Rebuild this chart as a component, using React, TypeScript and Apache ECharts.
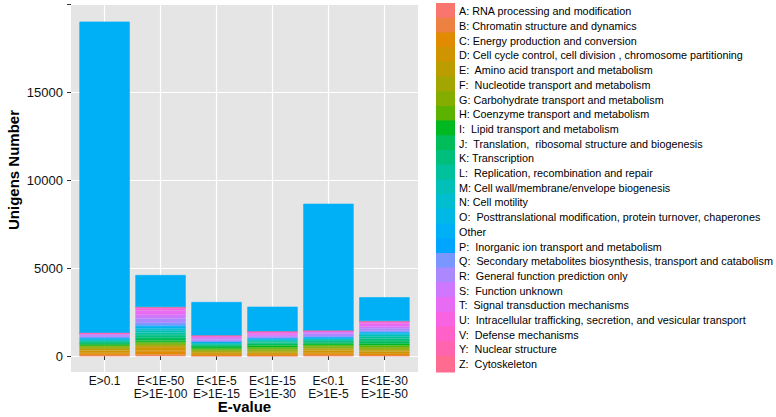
import React, { useEffect, useRef } from "react";
import * as echarts from "echarts";

// ---------- data ----------
const categories = [
  "E>0.1",
  "E<1E-50\nE>1E-100",
  "E<1E-5\nE>1E-15",
  "E<1E-15\nE>1E-30",
  "E<0.1\nE>1E-5",
  "E<1E-30\nE>1E-50",
];

const yTicks = [0, 5000, 10000, 15000, 20000];

const cogA = [20, 30, 10, 10, 20, 15];
const cogB = [40, 60, 20, 20, 40, 30];
const cogC = [120, 200, 80, 80, 120, 110];
const cogD = [140, 220, 80, 80, 140, 110];
const cogE = [90, 60, 50, 60, 70, 70];
const cogF = [60, 40, 40, 50, 60, 60];
const cogG = [80, 80, 70, 90, 90, 100];
const cogH = [60, 100, 80, 110, 80, 110];
const cogI = [50, 100, 80, 105, 80, 95];
const cogJ = [80, 150, 70, 90, 80, 150];
const cogK = [70, 150, 60, 80, 70, 140];
const cogL = [60, 140, 50, 70, 60, 120];
const cogM = [40, 130, 40, 60, 45, 100];
const cogN = [30, 80, 25, 40, 30, 60];
const cogO = [60, 120, 30, 40, 50, 60];
const cogP = [40, 80, 20, 30, 40, 40];
const cogQ = [40, 150, 40, 30, 50, 60];
const cogR = [120, 250, 100, 80, 140, 150];
const cogS = [60, 200, 75, 60, 100, 100];
const cogT = [25, 250, 80, 120, 40, 180];
const cogU = [15, 120, 40, 60, 20, 80];
const cogV = [8, 40, 15, 20, 10, 20];
const cogY = [4, 10, 5, 5, 5, 5];
const cogZ = [8, 20, 10, 10, 10, 15];
const cogOther = [17680, 1820, 1900, 1400, 7200, 1360];

// legend order (A..O, Other, P..Z)
const legendNames = [
  "A: RNA processing and modification",
  "B: Chromatin structure and dynamics",
  "C: Energy production and conversion",
  "D: Cell cycle control, cell division , chromosome partitioning",
  "E:  Amino acid transport and metabolism",
  "F:  Nucleotide transport and metabolism",
  "G: Carbohydrate transport and metabolism",
  "H: Coenzyme transport and metabolism",
  "I:  Lipid transport and metabolism",
  "J:  Translation,  ribosomal structure and biogenesis",
  "K: Transcription",
  "L:  Replication, recombination and repair",
  "M: Cell wall/membrane/envelope biogenesis",
  "N: Cell motility",
  "O:  Posttranslational modification, protein turnover, chaperones",
  "Other",
  "P:  Inorganic ion transport and metabolism",
  "Q:  Secondary metabolites biosynthesis, transport and catabolism",
  "R:  General function prediction only",
  "S:  Function unknown",
  "T:  Signal transduction mechanisms",
  "U:  Intracellular trafficking, secretion, and vesicular transport",
  "V:  Defense mechanisms",
  "Y:  Nuclear structure",
  "Z:  Cytoskeleton",
];

// stacking order bottom -> top, as [legend index, values]
const stackOrder: [number, number[]][] = [
  [0, cogA], [1, cogB], [2, cogC], [3, cogD], [4, cogE], [5, cogF], [6, cogG],
  [7, cogH], [8, cogI], [9, cogJ], [10, cogK], [11, cogL], [12, cogM], [13, cogN],
  [14, cogO], [16, cogP], [17, cogQ], [18, cogR], [19, cogS], [20, cogT], [21, cogU],
  [22, cogV], [23, cogY], [24, cogZ], [15, cogOther],
];

// ggplot-like hue palette colour (style only)
function hcl(h: number, c: number, l: number): string {
  const hr = (h * Math.PI) / 180;
  const U = c * Math.cos(hr);
  const V = c * Math.sin(hr);
  const Y = l > 8 ? Math.pow((l + 16) / 116, 3) : l / 903.3;
  const un = 0.1978398, vn = 0.4683363;
  const u = U / (13 * l) + un;
  const v = V / (13 * l) + vn;
  const X = (9 * Y * u) / (4 * v);
  const Z = -X / 3 - 5 * Y + (3 * Y) / v;
  const g = (t: number) => {
    t = t <= 0.0031308 ? 12.92 * t : 1.055 * Math.pow(t, 1 / 2.4) - 0.055;
    return Math.round(255 * Math.min(1, Math.max(0, t)));
  };
  const r = g(3.240479 * X - 1.53715 * Y - 0.498535 * Z);
  const gg = g(-0.969256 * X + 1.875992 * Y + 0.041556 * Z);
  const b = g(0.055648 * X - 0.204043 * Y + 1.057311 * Z);
  return "#" + [r, gg, b].map((x) => x.toString(16).padStart(2, "0")).join("");
}
const palette = legendNames.map((_, i) => hcl(15 + (360 * i) / legendNames.length, 100, 65));

const Y_MIN = -909;
const Y_MAX = 20000;
const PANEL_LEFT = 71;
const PANEL_TOP = 4;
const PANEL_W = 347;
const PANEL_H = 368;
const UNIT = PANEL_W / (categories.length + 0.2);

export default function App() {
  const ref = useRef<HTMLDivElement>(null);
  useEffect(() => {
    if (!ref.current) return;
    document.body.style.margin = "0";
    const chart = echarts.init(ref.current, undefined, { renderer: "svg" });
    const gridLineCats = categories.flatMap((c, i) => (i === 0 ? ["b0", c, "b1"] : [c, "b" + (i + 1)]));
    const labelFont = "'Liberation Sans', Arial, sans-serif";
    chart.setOption({
      animation: false,
      backgroundColor: "#ffffff",
      grid: [
        {
          left: PANEL_LEFT, top: PANEL_TOP, width: PANEL_W, height: PANEL_H,
          show: true, backgroundColor: "#E5E5E5", borderWidth: 0,
          containLabel: false, outerBoundsMode: "none",
        },
        {
          left: PANEL_LEFT + 0.1 * UNIT, top: PANEL_TOP, width: UNIT * categories.length, height: PANEL_H,
          containLabel: false, outerBoundsMode: "none",
        },
      ],
      xAxis: [
        { gridIndex: 0, type: "value", min: 0, max: 1, show: false },
        {
          gridIndex: 1, type: "category", data: categories,
          axisLine: { show: false },
          axisTick: { show: true, alignWithLabel: true, length: 4, lineStyle: { color: "#333" } },
          axisLabel: { interval: 0, fontSize: 12, color: "#111", margin: 3, lineHeight: 12.5, fontFamily: labelFont },
          splitLine: { show: false },
          name: "E-value", nameLocation: "middle", nameGap: 28, nameMoveOverlap: false,
          nameTextStyle: { fontSize: 15, fontWeight: "bold", color: "#000", fontFamily: labelFont, verticalAlign: "top", lineHeight: 13 },
        },
        {
          gridIndex: 1, type: "category", data: gridLineCats, boundaryGap: false,
          axisLine: { show: false }, axisTick: { show: false }, axisLabel: { show: false },
          splitLine: {
            show: true,
            interval: (i: number) => i % 2 === 1,
            lineStyle: { color: "#ffffff", width: 1.2 },
          },
        },
      ],
      yAxis: [
        {
          gridIndex: 0, type: "value", min: Y_MIN, max: Y_MAX,
          axisLine: { show: false },
          axisTick: { show: true, length: 4, customValues: yTicks, lineStyle: { color: "#333" } },
          axisLabel: {
            customValues: yTicks.filter((v) => v < Y_MAX),
            fontSize: 13, color: "#111", margin: 8, fontFamily: labelFont,
            formatter: (v: number) => String(v),
          },
          splitLine: { show: true, lineStyle: { color: "#ffffff", width: 1.2 } },
        },
        { gridIndex: 1, type: "value", min: Y_MIN, max: Y_MAX, show: false },
      ],
      legend: {
        orient: "vertical", left: 436, top: 3, padding: 0, height: 414,
        itemWidth: 17, itemHeight: 14.7, itemGap: -2, icon: "rect",
        selectedMode: false,
        data: legendNames,
        textStyle: { fontSize: 10.8, color: "#000", lineHeight: 14.7, height: 14.7, fontFamily: labelFont },
      },
      graphic: [
        {
          type: "text", x: 13, y: 170, rotation: Math.PI / 2,
          style: {
            text: "Unigens Number", fontSize: 15, fontWeight: "bold", fill: "#000",
            fontFamily: labelFont,
            align: "center", verticalAlign: "middle",
          },
        },
      ],
      series: stackOrder.map(([li, vals]) => ({
        type: "bar", name: legendNames[li], stack: "total",
        xAxisIndex: 1, yAxisIndex: 1, barWidth: "90%",
        itemStyle: { color: palette[li], borderColor: palette[li], borderWidth: 0.6 },
        data: vals,
      })),
    });
    return () => chart.dispose();
  }, []);
  return <div ref={ref} style={{ width: 776, height: 417 }} />;
}
